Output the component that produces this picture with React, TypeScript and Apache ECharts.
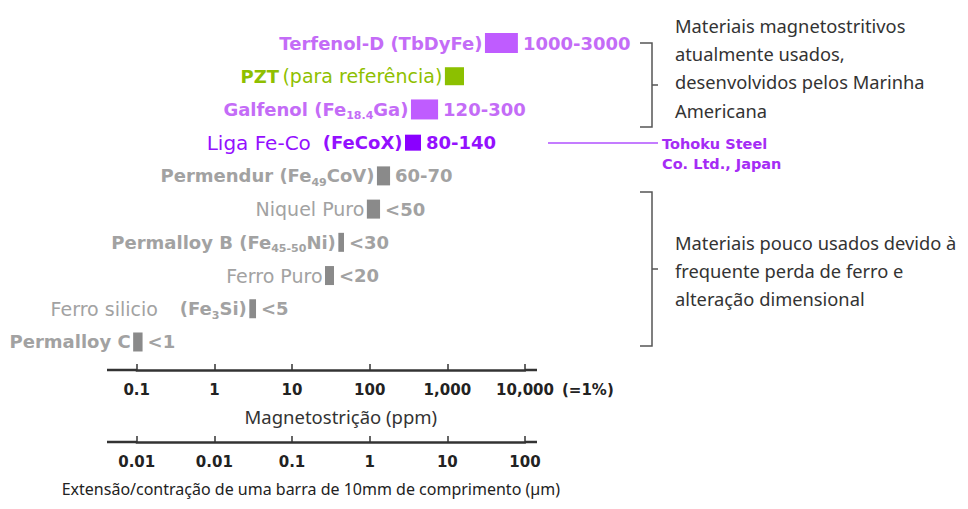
import React, { useEffect, useRef } from "react";
import * as echarts from "echarts";

// ---- data ----
const materials = [
  "Terfenol-D (TbDyFe)",
  "PZT (para referência)",
  "Galfenol (Fe18.4Ga)",
  "Liga Fe-Co (FeCoX)",
  "Permendur (Fe49CoV)",
  "Niquel Puro",
  "Permalloy B (Fe45-50Ni)",
  "Ferro Puro",
  "Ferro silicio (Fe3Si)",
  "Permalloy C",
];
const rangeLabels = ["1000-3000", "", "120-300", "80-140", "60-70", "<50", "<30", "<20", "<5", "<1"];
// bar extents as drawn in the picture (ppm)
const barStart = [3050, 930, 340, 285, 124, 92, 39.5, 26.6, 2.82, 0.09];
const barEnd = [8100, 1640, 760, 458, 183, 136, 46.7, 34.7, 3.44, 0.119];
const ppmTicks = ["0.1", "1", "10", "100", "1,000", "10,000"];
const umTicks = ["0.01", "0.01", "0.1", "1", "10", "100"];
const noteTop = "Materiais magnetostritivos\natualmente usados,\ndesenvolvidos pelos Marinha\nAmericana";
const noteBottom = "Materiais pouco usados devido à\nfrequente perda de ferro e\nalteração dimensional";
const noteTohoku = "Tohoku Steel\nCo. Ltd., Japan";

// ---- styles ----
const FONT = "DejaVu Sans";
const NOTE_FONT = "Noto Sans";
const groupOfRow = ["p", "g", "p", "d", "k", "k", "k", "k", "k", "k"];
const textColor: Record<string, string> = { p: "#c46cf7", g: "#8fbf00", d: "#9410ff", k: "#a2a2a2" };
const barColor: Record<string, string> = { p: "#bf5cff", g: "#8cc000", d: "#8a00ff", k: "#8a8a8a" };
const barHeight = [20, 18, 20, 16, 19, 19, 19, 19, 19, 19];
const nameRich = [
  "{b|Terfenol-D (TbDyFe)}",
  "{b|PZT} {r|(para referência)}",
  "{b|Galfenol (Fe}{s|18.4}{b|Ga)}",
  "{big|Liga Fe-Co}{b|(FeCoX)}",
  "{b|Permendur (Fe}{s|49}{b|CoV)}",
  "{r|Niquel Puro}",
  "{b|Permalloy B (Fe}{s|45-50}{b|Ni)}",
  "{r|Ferro Puro}",
  "{rg|Ferro silicio}{b|(Fe}{s|3}{b|Si)}",
  "{b|Permalloy C}",
];

export default function App() {
  const ref = useRef<HTMLDivElement>(null);
  useEffect(() => {
    if (!ref.current) return;
    const chart = echarts.init(ref.current, undefined, { renderer: "svg" });
    const data = materials.map((_, i) => [barStart[i], barEnd[i], i]);
    const axisCommon = {
      type: "log",
      logBase: 10,
      min: 0.1,
      max: 10000,
      splitNumber: 5,
      position: "bottom",
      axisLine: { show: true, lineStyle: { color: "#333", width: 2.5 } },
      axisTick: { show: true, inside: true, length: 6, lineStyle: { color: "#333", width: 1.5 } },
      minorTick: { show: false },
      splitLine: { show: false },
      nameLocation: "middle",
    };
    const labelCommon = { margin: 12, fontFamily: FONT, fontWeight: "bold", fontSize: 15, color: "#222" };
    const option: any = {
      animation: false,
      backgroundColor: "#ffffff",
      grid: { left: 136.7, right: 443, top: 26.4, bottom: 509 - 358.6 },
      yAxis: { type: "category", data: materials, inverse: true, show: false },
      xAxis: [
        {
          ...axisCommon,
          offset: 11.4,
          axisLabel: { ...labelCommon, formatter: (v: number) => ppmTicks[Math.round(Math.log10(v)) + 1] },
          name: "Magnetostrição (ppm)",
          nameGap: 37,
          nameTextStyle: { fontFamily: NOTE_FONT, fontSize: 18.5, color: "#333", padding: [0, 0, 0, 20] },
        },
        {
          ...axisCommon,
          offset: 83.4,
          axisLabel: { ...labelCommon, formatter: (v: number) => umTicks[Math.round(Math.log10(v)) + 1] },
          name: "Extensão/contração de uma barra de 10mm de comprimento (µm)",
          nameGap: 39,
          nameTextStyle: { fontFamily: NOTE_FONT, fontSize: 16, color: "#222", padding: [0, 40, 0, 0] },
        },
      ],
      series: [
        {
          type: "custom",
          xAxisIndex: 0,
          yAxisIndex: 0,
          encode: { x: [0, 1], y: 2 },
          data,
          renderItem: (params: any, api: any) => {
            const idx = api.value(2);
            const s = api.coord([api.value(0), idx]);
            const e = api.coord([api.value(1), idx]);
            const h = barHeight[idx];
            const grp = groupOfRow[idx];
            const tc = textColor[grp];
            const rich = {
              b: { fontFamily: FONT, fontWeight: "bold", fontSize: 18, fill: tc, lineHeight: 24 },
              r: { fontFamily: FONT, fontWeight: "normal", fontSize: 19, fill: tc, lineHeight: 24 },
              rg: { fontFamily: FONT, fontWeight: "normal", fontSize: 19, fill: tc, lineHeight: 24, padding: [0, 22, 0, 0] },
              big: { fontFamily: FONT, fontWeight: "normal", fontSize: 20, fill: tc, lineHeight: 24, padding: [0, 12, 0, 0] },
              s: { fontFamily: FONT, fontWeight: "bold", fontSize: 11, fill: tc, lineHeight: 16, verticalAlign: "bottom" },
            };
            const children: any[] = [
              {
                type: "rect",
                shape: { x: s[0], y: s[1] - h / 2, width: e[0] - s[0], height: h },
                style: { fill: barColor[grp] },
              },
              {
                type: "text",
                x: s[0] - 2.5,
                y: s[1],
                style: { text: nameRich[idx], rich, align: "right", verticalAlign: "middle" },
              },
            ];
            if (rangeLabels[idx]) {
              children.push({
                type: "text",
                x: e[0] + 5,
                y: s[1],
                style: {
                  text: rangeLabels[idx],
                  fontFamily: FONT,
                  fontWeight: "bold",
                  fontSize: 18,
                  fill: tc,
                  align: "left",
                  verticalAlign: "middle",
                },
              });
            }
            return { type: "group", children };
          },
        },
      ],
      graphic: [
        { type: "line", shape: { x1: 107, y1: 370, x2: 137, y2: 370 }, style: { stroke: "#333", lineWidth: 2.5 } },
        { type: "line", shape: { x1: 525, y1: 370, x2: 537, y2: 370 }, style: { stroke: "#333", lineWidth: 2.5 } },
        { type: "line", shape: { x1: 107, y1: 442, x2: 137, y2: 442 }, style: { stroke: "#333", lineWidth: 2.5 } },
        { type: "line", shape: { x1: 525, y1: 442, x2: 537, y2: 442 }, style: { stroke: "#333", lineWidth: 2.5 } },
        {
          type: "text",
          x: 562,
          y: 390,
          style: { text: "(=1%)", fontFamily: FONT, fontWeight: "bold", fontSize: 15, fill: "#222", verticalAlign: "middle" },
        },
        {
          type: "polyline",
          shape: { points: [[640, 43], [652, 43], [652, 127], [640, 127]] },
          style: { stroke: "#555", lineWidth: 1.5, fill: null },
        },
        { type: "line", shape: { x1: 652, y1: 85, x2: 658, y2: 85 }, style: { stroke: "#555", lineWidth: 1.5 } },
        {
          type: "polyline",
          shape: { points: [[640, 192], [652, 192], [652, 346], [640, 346]] },
          style: { stroke: "#555", lineWidth: 1.5, fill: null },
        },
        { type: "line", shape: { x1: 652, y1: 269, x2: 658, y2: 269 }, style: { stroke: "#555", lineWidth: 1.5 } },
        {
          type: "text",
          x: 675,
          y: 11,
          style: { text: noteTop, fontFamily: NOTE_FONT, fontSize: 18.3, lineHeight: 28.3, fill: "#333", verticalAlign: "top" },
        },
        {
          type: "text",
          x: 675,
          y: 228,
          style: { text: noteBottom, fontFamily: NOTE_FONT, fontSize: 18.3, lineHeight: 28, fill: "#333", verticalAlign: "top" },
        },
        { type: "line", shape: { x1: 548, y1: 143, x2: 658, y2: 143 }, style: { stroke: "#b050ff", lineWidth: 1.5 } },
        {
          type: "text",
          x: 662,
          y: 134,
          style: {
            text: noteTohoku,
            fontFamily: FONT,
            fontWeight: "bold",
            fontSize: 14.5,
            lineHeight: 20,
            fill: "#a52cf5",
            verticalAlign: "top",
          },
        },
      ],
    };
    chart.setOption(option);
    return () => chart.dispose();
  }, []);
  return <div ref={ref} style={{ position: "fixed", left: 0, top: 0, width: 968, height: 509 }} />;
}
